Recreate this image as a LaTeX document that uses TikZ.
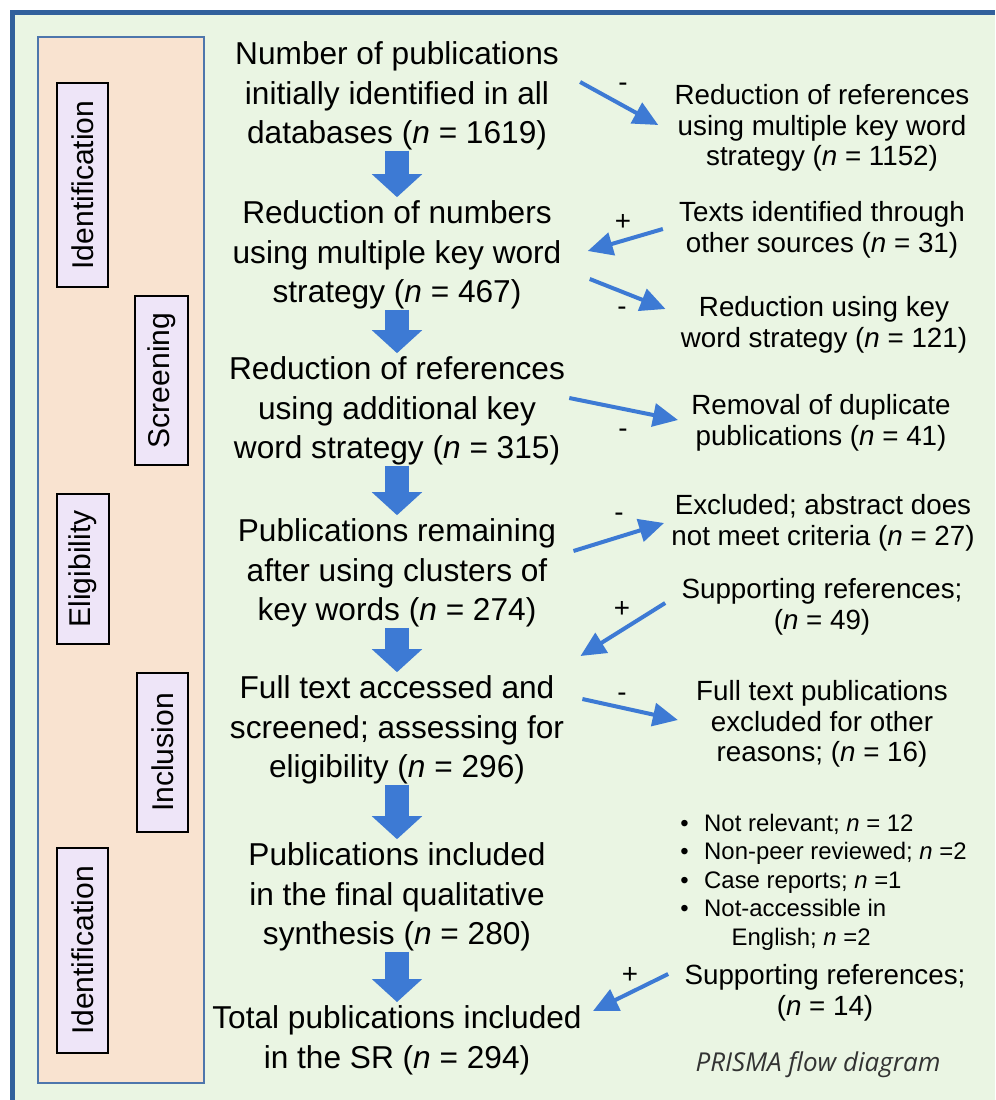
\documentclass[tikz,border=0pt]{standalone}
\usepackage{fontspec}
\setmainfont{Liberation Sans}
\newfontfamily\notefont{Open Sans}
\usetikzlibrary{arrows.meta,calc}

\definecolor{framebg}{RGB}{234,245,227}
\definecolor{framebd}{RGB}{50,96,156}
\definecolor{stagebg}{RGB}{249,227,208}
\definecolor{stagebd}{RGB}{78,118,172}
\definecolor{labelbg}{RGB}{238,229,248}
\definecolor{flowblue}{RGB}{61,122,212}

\begin{document}
\begin{tikzpicture}
[x=0.2mm,y=-0.2mm,
mainstep/.style={align=center, inner sep=0pt,
font=\fontsize{18}{22.6}\selectfont},
sidestep/.style={align=center, inner sep=0pt,
font=\fontsize{15.8}{17.4}\selectfont},
bullets/.style={align=left, inner sep=0pt,
font=\fontsize{13.6}{16.2}\selectfont},
stage/.style={draw=black, line width=0.3mm, fill=labelbg, rotate=90,
inner sep=0pt, font=\fontsize{17.1}{20}\selectfont},
sign/.style={inner sep=0pt, font=\fontsize{15.8}{17}\selectfont},
bigarrow/.style={draw=flowblue, line width=4.8mm,
-{Triangle[length=4.6mm,width=9.8mm]}, shorten >=0.6mm},
line/.style={draw=flowblue, line width=0.8mm,
-{Triangle[length=5mm,width=4.6mm]}}]

% background and frame
\useasboundingbox (0,0) rectangle (995,1100);
\fill[white] (0,0) rectangle (995,1100);
\fill[framebg] (12.5,12.5) rectangle (995,1100);
\draw[framebd, line width=0.9mm] (995,12.5) -- (12.5,12.5) -- (12.5,1100);
\draw[stagebd, fill=stagebg, line width=0.4mm] (38,37) rectangle (204,1083);

% stages on the left
\node[stage, minimum width=40.8mm, minimum height=10.2mm] (ident) at (82.5,185) {Identification};
\node[stage, minimum width=33.8mm, minimum height=10.6mm] (screen) at (161.5,380.5) {Screening};
\node[stage, minimum width=30mm, minimum height=10.4mm] (elig) at (83,569) {Eligibility};
\node[stage, minimum width=31.8mm, minimum height=10.2mm] (incl) at (162.5,752.5) {Inclusion};
\node[stage, minimum width=41mm, minimum height=10.2mm] (identb) at (82.5,950.5) {Identification};

% main column
\node[mainstep] (m1) at (397,96) {Number of publications\\initially identified in all\\databases (\textit{n} = 1619)};
\node[mainstep] (m2) at (397,255) {Reduction of numbers\\using multiple key word\\strategy (\textit{n} = 467)};
\node[mainstep] (m3) at (397,411) {Reduction of references\\using additional key\\word strategy (\textit{n} = 315)};
\node[mainstep] (m4) at (397,573) {Publications remaining\\after using clusters of\\key words (\textit{n} = 274)};
\node[mainstep] (m5) at (397,730) {Full text accessed and\\screened; assessing for\\eligibility (\textit{n} = 296)};
\node[mainstep] (m6) at (397,897) {Publications included\\in the final qualitative\\synthesis (\textit{n} = 280)};
\node[mainstep] (m7) at (397,1040) {Total publications included\\in the SR (\textit{n} = 294)};

% side column
\node[sidestep] (r1) at (822,128) {Reduction of references\\using multiple key word\\strategy (\textit{n} = 1152)};
\node[sidestep] (r2) at (822,230) {Texts identified through\\other sources (\textit{n} = 31)};
\node[sidestep] (r3) at (824,325) {Reduction using key\\word strategy (\textit{n} = 121)};
\node[sidestep] (r4) at (821,423) {Removal of duplicate\\publications (\textit{n} = 41)};
\node[sidestep] (r5) at (823,523) {Excluded; abstract does\\not meet criteria (\textit{n} = 27)};
\node[sidestep] (r6) at (822,607) {Supporting references;\\(\textit{n} = 49)};
\node[sidestep] (r7) at (822,724) {Full text publications\\excluded for other\\reasons; (\textit{n} = 16)};
\node[bullets, anchor=west] (r7list) at (680,882) {%
\makebox[1em][l]{\textbullet}Not relevant; \textit{n} = 12\\
\makebox[1em][l]{\textbullet}Non-peer reviewed; \textit{n} =2\\
\makebox[1em][l]{\textbullet}Case reports; \textit{n} =1\\
\makebox[1em][l]{\textbullet}Not-accessible in\\
\hspace*{2.15em}English; \textit{n} =2};
\node[sidestep] (r8) at (825,993) {Supporting references;\\(\textit{n} = 14)};
\node[font=\notefont\itshape\fontsize{14.8}{17}\selectfont, text=black!80] (note) at (818,1065) {PRISMA flow diagram};

% down arrows
\path[bigarrow] (m1) -- (m2);
\path[bigarrow] (m2) -- (m3);
\path[bigarrow] (m3) -- (m4);
\path[bigarrow] (m4) -- (m5);
\path[bigarrow] (m5) -- (m6);
\path[bigarrow] (m6) -- (m7);

% side arrows
\path[line] ($(m1.east)+(21,-14)$) -- ($(r1.west)+(-16,-3)$);
\path[line] ($(r2.west)+(-16,-1)$) -- ($(m2.east)+(26,-4)$);
\path[line] ($(m2.east)+(28,24)$) -- ($(r3.west)+(-15,-16)$);
\path[line] ($(m3.east)+(4,-13)$) -- ($(r4.west)+(-13,-3)$);
\path[line] ($(m4.east)+(17,-22)$) -- ($(r5.west)+(-7,0)$);
\path[line] ($(r6.west)+(-16,-4)$) -- ($(m4.east)+(24,83)$);
\path[line] ($(m5.east)+(18,-31)$) -- ($(r7.west)+(-18,-4)$);
\path[line] ($(r8.west)+(-16,-19)$) -- ($(m7.east)+(11,-29)$);

% signs
\node[sign] (s1) at (623,87) {-};
\node[sign] (s2) at (623,222) {+};
\node[sign] (s3) at (622,311) {-};
\node[sign] (s4) at (623,433) {-};
\node[sign] (s5) at (619,517) {-};
\node[sign] (s6) at (622,609) {+};
\node[sign] (s7) at (622,697) {-};
\node[sign] (s8) at (630,975) {+};
\end{tikzpicture}
\end{document}
